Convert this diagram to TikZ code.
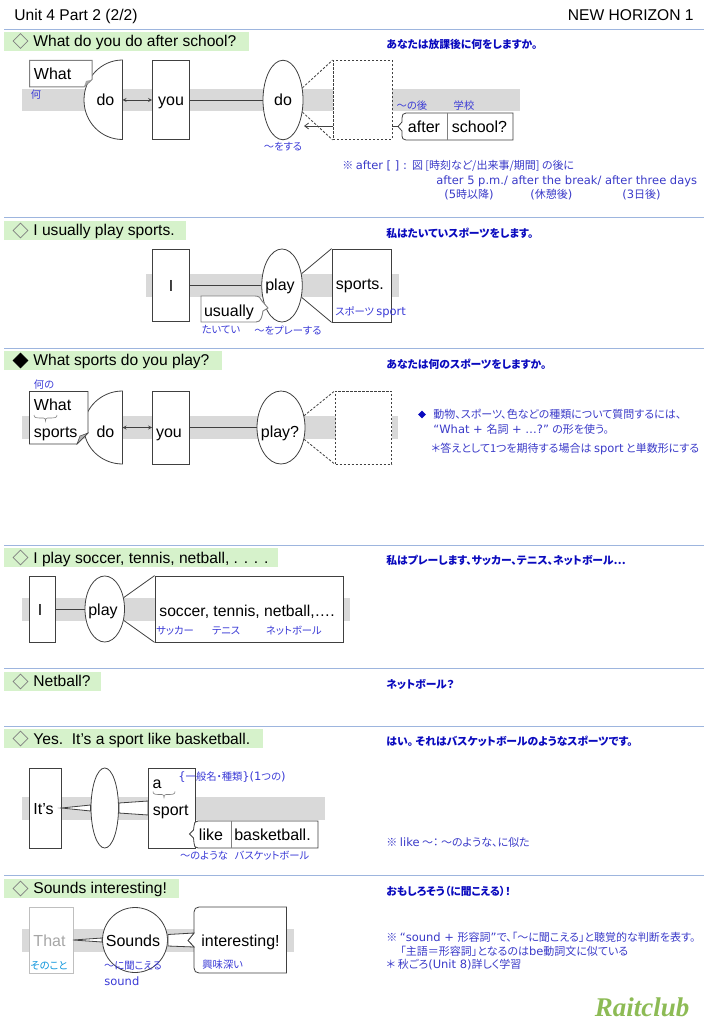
\documentclass[tikz,border=0pt]{standalone}
\usepackage{fontspec}
\setmainfont{Liberation Sans}
\newfontfamily\jpf[RawFeature={+palt}]{Noto Sans CJK JP}
\newfontfamily\vdf{DejaVu Sans}
\newfontfamily\logof{Liberation Serif}
\usetikzlibrary{shapes.geometric,arrows.meta}
\definecolor{secline}{HTML}{9DB5DE}
\definecolor{titlebg}{HTML}{D6F2CB}
\definecolor{bandgray}{HTML}{D9D9D9}
\definecolor{lblblue}{HTML}{3A3AD6}
\definecolor{boldblue}{HTML}{0A0ABE}
\definecolor{noteblue}{HTML}{3A3AC8}
\definecolor{inkdark}{HTML}{404040}
\definecolor{logogreen}{HTML}{8DBB55}
\tikzset{
  x=1pt,y=-1pt,
  every path/.style={line width=0.8pt},
  secrule/.style={draw=secline,line width=1pt},
  titleband/.style={fill=titlebg,draw=none},
  greyband/.style={fill=bandgray,draw=none},
  bigfont/.style={font=\fontsize{16}{18}\selectfont,text height=14pt,text depth=3pt},
  ttext/.style={anchor=west,inner sep=0,font=\fontsize{15.6}{18}\selectfont,text height=14pt,text depth=3pt,text=black},
  wtext/.style={inner sep=0,bigfont,text=black},
  bx/.style={draw=inkdark,fill=white,inner sep=0,bigfont},
  ell/.style={ellipse,draw=inkdark,fill=white,inner sep=0,bigfont},
  conn/.style={draw=inkdark},
  dconn/.style={draw=inkdark,dash pattern=on 2.4pt off 1.6pt},
  dia/.style={diamond,draw=gray,inner sep=0,minimum width=15pt,minimum height=15pt,line width=0.7pt},
  lbl/.style={inner sep=0,text=lblblue,font=\jpf\fontsize{10.3}{13}\selectfont},
  head/.style={anchor=west,inner sep=0,text=boldblue,font=\jpf\bfseries\fontsize{10.8}{13}\selectfont},
  note/.style={anchor=west,inner sep=0,text=noteblue,font=\jpf\fontsize{11}{13}\selectfont},
}
\newcommand{\vd}[1]{{\vdf\fontsize{11.5}{13}\selectfont #1}}
\newcommand{\smallbrace}[3]{%
  \draw[draw=gray,line width=0.6pt] (#1-#3,#2) .. controls (#1-#3,#2+3) and (#1-#3+2,#2+3) .. (#1-2,#2+3)
   .. controls (#1-0.5,#2+3) and (#1,#2+4) .. (#1,#2+6)
   .. controls (#1,#2+4) and (#1+0.5,#2+3) .. (#1+2,#2+3)
   .. controls (#1+#3-2,#2+3) and (#1+#3,#2+3) .. (#1+#3,#2);}
\begin{document}
\begin{tikzpicture}
\useasboundingbox (0,0) rectangle (709,1024);
% header
\node[ttext] (hdl) at (14,15.5) {Unit 4 Part 2 (2/2)};
\node[ttext,anchor=east] (hdr) at (694,15.5) {NEW HORIZON 1};
\foreach \yy in {29.5,218,348,545,668,726,875}{\draw[secrule] (4,\yy) -- (704,\yy);}
% title bands
\fill[titleband] (4,32) rectangle (249,51);
\fill[titleband] (4,221) rectangle (186,240);
\fill[titleband] (4,351) rectangle (222,370);
\fill[titleband] (4,548) rectangle (278,567);
\fill[titleband] (4,672) rectangle (101,691);
\fill[titleband] (4,729) rectangle (263,748);
\fill[titleband] (4,879) rectangle (179,898);
\node[dia] (d1) at (20.5,41) {};
\node[dia] (d2) at (20.5,230.5) {};
\node[dia,fill=black,draw=black] (d3) at (20.5,360.5) {};
\node[dia] (d4) at (20.5,557.5) {};
\node[dia] (d5) at (20.5,681.5) {};
\node[dia] (d6) at (20.5,738.5) {};
\node[dia] (d7) at (20.5,888.5) {};
\node[ttext] (t1) at (33,41) {What do you do after school?};
\node[ttext] (t2) at (33,230) {I usually play sports.};
\node[ttext] (t3) at (33,360) {What sports do you play?};
\node[ttext] (t4) at (33,557.5) {I play soccer, tennis, netball, . . . .};
\node[ttext] (t5) at (33,681) {Netball?};
\node[ttext] (t6) at (33,738.5) {Yes.\ \ It’s a sport like basketball.};
\node[ttext] (t7) at (33,887.5) {Sounds interesting!};
% bold translations
\node[head] (h1) at (386,44.5) {あなたは放課後に何をしますか。};
\node[head] (h2) at (386,233.5) {私はたいていスポーツをします。};
\node[head] (h3) at (386,364) {あなたは何のスポーツをしますか。};
\node[head] (h4) at (386,560.5) {私はプレーします、サッカー、テニス、ネットボール…};
\node[head] (h5) at (386,684.5) {ネットボール？};
\node[head] (h6) at (386,741.5) {はい。 それはバスケットボールのようなスポーツです。};
\node[head] (h7) at (386,891) {おもしろそう（に聞こえる）！};

% ---------- section 1
\fill[greyband] (22,89) rectangle (520,111);
\draw[draw=inkdark,fill=white] (122.5,60) .. controls (101.2,60) and (84,77.9) .. (84,100) .. controls (84,122.1) and (101.2,139.5) .. (122.5,139.5) -- cycle;
\coordinate (half1) at (122.5,100);
\node[wtext] (do1) at (105.5,100.5) {do};
\draw[draw=gray,fill=white,line width=1pt] (29.5,60.5) -- (92,60.5) -- (92,79.5) -- (84,87) -- (29.5,87) -- cycle;
\fill[gray!70] (91,80) -- (86,81) -- (84,87) -- cycle;
\node[wtext,anchor=west] (what1) at (33.5,74) {What};
\node[lbl] (l1a) at (36,95) {何};
\node[bx,minimum width=37pt,minimum height=79pt] (you1) at (171,100) {you};
\node[ell,minimum width=40pt,minimum height=79.5pt] (do2) at (283,100) {do};
\node[draw=inkdark,dash pattern=on 2.4pt off 1.6pt,fill=white,minimum width=59pt,minimum height=79pt,inner sep=0] (dash1) at (362.5,100) {};
\draw[conn] (you1) -- (do2);
\draw[conn,<->,>=stealth] (half1) -- (you1);
\draw[dconn] (do2.32) -- (dash1.north west);
\draw[dconn] (do2.-32) -- (dash1.south west);
\coordinate (dash1e) at (333,126);
\coordinate (do2e) at (304,126);
\draw[conn,->,>={Straight Barb[length=4pt,width=6pt]}] (dash1e) -- (do2e);
\draw[draw=inkdark,fill=white] (513,113) -- (406,113) .. controls (403,113) and (402,115) .. (402,118) -- (402,122) -- (398,126.5) -- (402,131) -- (402,136) .. controls (402,138) and (403,140) .. (406,140) -- (513,140) -- cycle;
\coordinate (after1w) at (398,126.5);
\draw[conn] (dash1.east |- after1w) -- (after1w);
\draw[draw=gray,line width=1pt] (447,113) -- (447,140);
\node[wtext] (after1) at (424,127) {after};
\node[wtext] (school1) at (479.5,127) {school?};
\node[lbl] (l1b) at (412,106) {～の後};
\node[lbl] (l1c) at (464,106) {学校};
\node[lbl] (l1d) at (283,147) {～をする};
\node[note] (n1a) at (342,166) {※ \vd{after [ ] :}\, 図 [時刻など/出来事/期間] の後に};
\node[note] (n1b) at (436,181) {\vd{after 5 p.m./ after the break/ after three days}};
\node[note] (n1c) at (444,195) {\vd{(5}時以降\vd{)}};
\node[note] (n1d) at (530,195) {\vd{(}休憩後\vd{)}};
\node[note] (n1e) at (622,195) {\vd{(3}日後\vd{)}};

% ---------- section 2
\fill[greyband] (146,274) rectangle (399,297);
\node[bx,minimum width=37.5pt,minimum height=72.5pt] (i2) at (171,285.5) {I};
\node[ell,minimum width=40.5pt,minimum height=73pt] (play2) at (282,285.5) {};
\node[wtext] (play2t) at (280,285) {play};
\node[bx,minimum width=59pt,minimum height=73pt] (sports2) at (361.5,285.5) {};
\node[wtext,anchor=west] (sports2t) at (335.5,284) {sports.};
\draw[conn] (i2) -- (play2);
\draw[conn] (play2.31) -- (sports2.north west);
\draw[conn] (play2.-31) -- (sports2.south west);
\draw[draw=gray,fill=white,line width=0.9pt] (201,296) -- (255,296) .. controls (259,296) and (261,298) .. (262,301) -- (268,308) -- (263,311) .. controls (262,317) and (261,322) .. (256,322) -- (201,322) -- cycle;
\node[wtext] (usually2) at (229,310.5) {usually};
\node[lbl,anchor=west] (l2a) at (335,312) {スポーツ \vd{sport}};
\node[lbl] (l2b) at (221,330) {たいてい};
\node[lbl] (l2c) at (288,330) {～をプレーする};

% ---------- section 3
\fill[greyband] (22,416) rectangle (398,439);
\draw[draw=inkdark,fill=white] (122.5,391) .. controls (101.5,391) and (84,407.5) .. (84,427.5) .. controls (84,447.5) and (101.5,464) .. (122.5,464) -- cycle;
\coordinate (half3) at (122.5,427.5);
\node[wtext] (do3) at (105.5,432) {do};
\draw[draw=inkdark,fill=white] (29.5,391.5) -- (88,391.5) -- (88,433) -- (77,444) -- (29.5,444) -- cycle;
\fill[fill=gray!60,draw=inkdark,line width=0.5pt] (88,433) -- (80,436) -- (77,444) -- cycle;
\node[wtext,anchor=west] (what3) at (33.5,405) {What};
\smallbrace{45.5}{415}{11.5}
\node[wtext,anchor=west] (sports3) at (33.5,432) {sports};
\node[lbl] (l3a) at (44,385) {何の};
\node[bx,minimum width=37pt,minimum height=73pt] (you3) at (171,427.5) {};
\node[wtext] (you3t) at (169,432) {you};
\node[ell,minimum width=48pt,minimum height=73pt] (play3) at (281,427.5) {};
\node[wtext] (play3t) at (280,432) {play?};
\node[draw=inkdark,dash pattern=on 2.4pt off 1.6pt,fill=white,minimum width=56pt,minimum height=73pt,inner sep=0] (dash3) at (363.5,427.5) {};
\draw[conn] (you3) -- (play3);
\draw[conn,<->,>=stealth] (half3) -- (you3);
\draw[dconn] (play3.27) -- (dash3.north west);
\draw[dconn] (play3.-27) -- (dash3.south west);
\node[inner sep=0,diamond,fill=boldblue,minimum width=8pt,minimum height=8pt] (dm3) at (422,414.5) {};
\node[note] (n3a) at (433,414.5) {動物、スポーツ、色などの種類について質問するには、};
\node[note] (n3b) at (433,429.5) {\vd{“What + }名詞\vd{ + …?”} の形を使う。};
\node[note] (n3c) at (431,449) {＊答えとして1つを期待する場合は \vd{sport} と単数形にする};

% ---------- section 4
\fill[greyband] (22,598) rectangle (350,621);
\node[bx,minimum width=25.5pt,minimum height=66pt] (i4) at (42.25,609) {};
\node[wtext] (i4t) at (40,610) {I};
\node[ell,minimum width=39.5pt,minimum height=66pt] (play4) at (104.75,609) {};
\node[wtext] (play4t) at (103,610) {play};
\node[bx,minimum width=188pt,minimum height=66pt] (big4) at (249,609) {};
\node[wtext,anchor=west,font=\fontsize{15.7}{18}\selectfont] (list4) at (159,610.5) {soccer, tennis, netball,….};
\draw[conn] (i4) -- (play4);
\draw[conn] (play4.31) -- (big4.north west);
\draw[conn] (play4.-31) -- (big4.south west);
\node[lbl] (l4a) at (175,631) {サッカー};
\node[lbl] (l4b) at (226,631) {テニス};
\node[lbl] (l4c) at (294,631) {ネットボール};

% ---------- section 6
\fill[greyband] (22,797) rectangle (325,820);
\node[bx,minimum width=32pt,minimum height=80pt] (its6) at (45.5,808) {};
\node[wtext] (its6t) at (43.5,808.5) {It’s};
\node[ell,minimum width=27.5pt,minimum height=80pt] (ell6) at (104.75,808) {};
\node[bx,minimum width=47pt,minimum height=80pt] (sport6) at (172,808) {};
\node[wtext] (a6) at (157,783) {a};
\smallbrace{164}{791.5}{11}
\node[wtext,anchor=west] (sp6) at (152.5,809.5) {sport};
\coordinate (its6e) at (61.5,808);
\draw[conn,fill=white] (its6e) -- (ell6.west |- 0,805) -- (ell6.west |- 0,811) -- cycle;
\draw[conn,fill=white] (ell6.east |- 0,803) -- (sport6.west |- 0,801) -- (sport6.west |- 0,815) -- (ell6.east |- 0,813) -- cycle;
\draw[draw=inkdark,fill=white] (318,821) -- (198,821) .. controls (195,821) and (194,823) .. (194,826) -- (193.5,830) -- (189.5,834) -- (193.5,838) -- (194,843) .. controls (194,846) and (195,848) .. (198,848) -- (318,848) -- cycle;
\draw[draw=gray,line width=1pt] (231,821) -- (231,848);
\node[wtext] (like6) at (211,834.5) {like};
\node[wtext] (bb6) at (272.5,834.5) {basketball.};
\node[lbl,anchor=west] (l6a) at (178,777) {\vd{\{}一般名・種類\vd{\}(1}つの\vd{)}};
\node[lbl] (l6b) at (204,856) {～のような};
\node[lbl] (l6c) at (272,856) {バスケットボール};
\node[note] (n6) at (386,842) {※ \vd{like} ～： ～のような、に似た};

% ---------- section 7
\fill[greyband] (22,929) rectangle (294,952);
\node[draw=gray!50,fill=white,inner sep=0,minimum width=43.5pt,minimum height=66pt] (that7) at (51.25,940) {};
\node[wtext,text=gray!70] (that7t) at (49.5,941) {That};
\node[circle,draw=inkdark,fill=white,inner sep=0,minimum size=65pt] (snd7) at (135,940) {};
\node[wtext] (snd7t) at (133,941) {Sounds};
\draw[draw=inkdark,fill=white] (286.5,907) -- (199,907) .. controls (196,907) and (194,909) .. (194,912) -- (194,933) -- (188,940.5) -- (194,947) -- (194,968) .. controls (194,971) and (196,973) .. (199,973) -- (286.5,973) -- cycle;
\node[wtext] (int7) at (240.5,941) {interesting!};
\coordinate (that7e) at (73,940);
\coordinate (bub7a) at (194,933);
\coordinate (bub7b) at (194,947);
\coordinate (bub7c) at (188,940.5);
\draw[conn,fill=white] (that7e) -- (snd7.west |- 0,938) -- (snd7.west |- 0,942) -- cycle;
\draw[conn,fill=white] (snd7.east |- 0,934.5) -- (bub7a) -- (bub7c) -- (bub7b) -- (snd7.east |- 0,946) -- cycle;
\node[lbl,text=cyan!80!blue] (l7a) at (49,966) {そのこと};
\node[lbl] (l7b) at (133,966) {～に聞こえる};
\node[lbl,anchor=west] (l7c) at (104,981) {\vd{sound}};
\node[lbl,anchor=west] (l7d) at (202,965) {興味深い};
\node[note] (n7a) at (386,937) {※ \vd{“sound + }形容詞\vd{”}で、「～に聞こえる」と聴覚的な判断を表す。};
\node[note] (n7b) at (400,951) {「主語＝形容詞」となるのは\vd{be}動詞文に似ている};
\node[note] (n7c) at (386,965) {＊ 秋ごろ\vd{(Unit 8)}詳しく学習};
\node[inner sep=0,text=logogreen,font=\logof\fontsize{27}{30}\selectfont\bfseries\itshape] (logo) at (642,1007) {Raitclub};
\end{tikzpicture}
\end{document}
